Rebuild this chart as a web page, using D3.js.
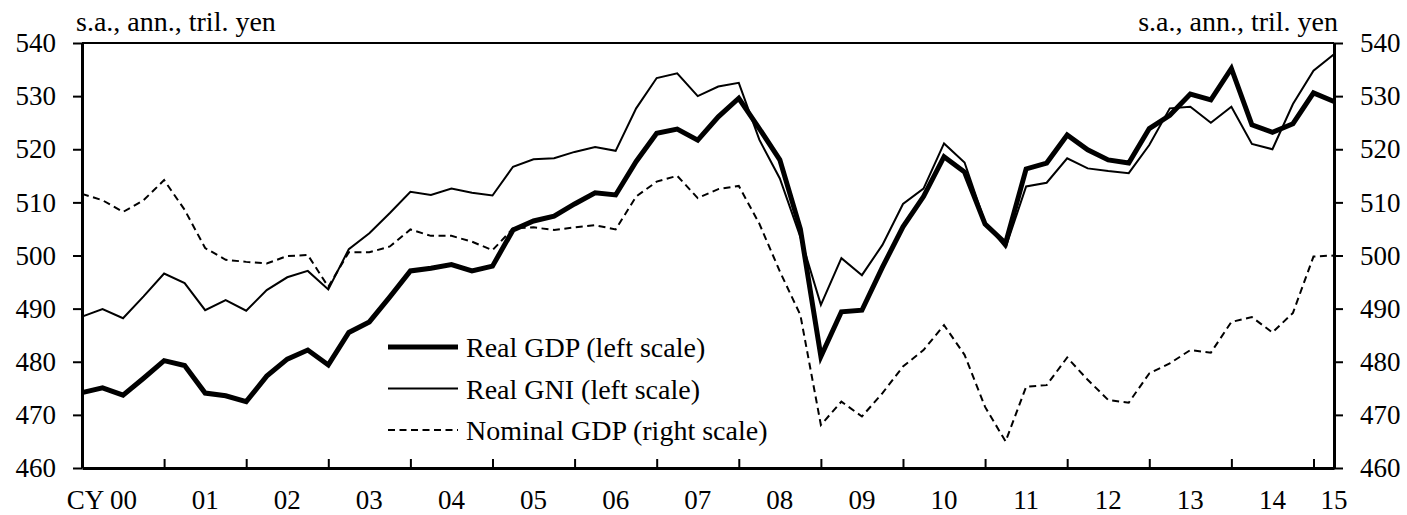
<!DOCTYPE html>
<html>
<head>
<meta charset="utf-8">
<script src="https://cdn.jsdelivr.net/npm/d3@7"></script>
<style>
  body { margin: 0; background: #fff; }
  svg text { font-family: "Liberation Serif", "Times New Roman", "DejaVu Serif", serif !important; fill: #000; }
</style>
</head>
<body>
<div id="chart"></div>
<script>
// quarterly, 2000Q1 .. 2015Q2
var years = ["CY 00","01","02","03","04","05","06","07","08","09","10","11","12","13","14","15"];

var realGDP = [474.2,475.1,473.7,476.9,480.2,479.3,474.1,473.6,472.5,477.3,480.5,482.2,479.4,485.5,487.5,492.2,
  497.1,497.6,498.3,497.1,498.0,504.8,506.5,507.4,509.7,511.8,511.4,517.7,523.0,523.8,521.7,526.1,
  529.6,523.9,518.0,505.0,481.0,489.4,489.7,497.8,505.4,511.1,518.6,515.7,505.9,502.3,516.3,517.4,
  522.7,519.9,518.0,517.4,523.9,526.4,530.4,529.3,535.2,524.6,523.2,524.8,530.6,529.0];

var realGNI = [488.5,489.9,488.2,492.3,496.6,494.8,489.7,491.6,489.6,493.5,495.9,497.1,493.6,501.2,504.2,508.0,
  512.0,511.4,512.6,511.8,511.3,516.7,518.1,518.3,519.5,520.4,519.7,527.7,533.4,534.3,530.0,531.8,
  532.5,521.8,514.5,503.5,490.7,499.5,496.3,502.0,509.7,512.6,521.1,517.5,506.2,501.5,513.0,513.7,
  518.3,516.4,515.9,515.5,520.8,527.7,528.0,525.0,528.0,521.0,520.0,528.5,534.8,537.9];

var nominalGDP = [511.6,510.4,508.2,510.4,514.2,508.6,501.4,499.2,498.8,498.5,499.9,500.1,494.1,500.6,500.6,501.7,
  504.9,503.7,503.7,502.6,501.0,505.1,505.3,504.8,505.3,505.7,504.9,511.1,513.9,515.0,510.8,512.5,
  513.1,506.0,497.0,488.8,468.1,472.5,469.7,474.1,479.1,482.2,486.9,481.3,471.5,465.0,475.3,475.6,
  480.8,476.6,472.8,472.3,477.8,479.7,482.2,481.7,487.5,488.4,485.5,489.2,499.8,500.0];

var yTicks = [460,470,480,490,500,510,520,530,540];

var W = 1407, H = 515;
var L = 82, R = 1334, T = 43, B = 468;
var FONT = "'Liberation Serif', 'Times New Roman', 'DejaVu Serif', serif";

var svg = d3.select("#chart").append("svg")
  .attr("width", W).attr("height", H)
  .attr("font-family", FONT);

var x = d3.scaleLinear().domain([0, realGDP.length - 1]).range([L, R]);
var yL = d3.scaleLinear().domain([460, 540]).range([B, T]);
var yR = d3.scaleLinear().domain([460, 540]).range([B, T]);

// top frame line
svg.append("line")
  .attr("x1", L).attr("x2", R).attr("y1", T).attr("y2", T)
  .attr("stroke", "#000").attr("stroke-width", 2);

// left axis
var gL = svg.append("g").attr("transform", "translate(" + L + ",0)")
  .call(d3.axisLeft(yL).tickValues(yTicks).tickSize(9).tickSizeOuter(0).tickPadding(17));
// right axis
var gR = svg.append("g").attr("transform", "translate(" + R + ",0)")
  .call(d3.axisRight(yR).tickValues(yTicks).tickSize(9).tickSizeOuter(0).tickPadding(17));

[gL, gR].forEach(function(g){
  g.attr("font-family", FONT).attr("font-size", 27);
  g.select(".domain").attr("stroke", "#000").attr("stroke-width", 3);
  g.selectAll(".tick line").attr("stroke", "#000").attr("stroke-width", 2);
  g.selectAll(".tick text").attr("fill", "#000");
});

// bottom axis with year ticks at Q1 of each year
var yearTicks = d3.range(4, realGDP.length, 4);
var gB = svg.append("g").attr("transform", "translate(0," + B + ")")
  .call(d3.axisTop(x).tickValues(yearTicks).tickSize(9).tickSizeOuter(0).tickFormat(""));
gB.select(".domain").attr("stroke", "#000").attr("stroke-width", 3);
gB.selectAll(".tick line").attr("stroke", "#000").attr("stroke-width", 2);

// year labels centred between ticks
svg.append("g").selectAll("text")
  .data(years)
  .join("text")
  .attr("x", function(d, i){ return i == 0 ? x(2) + 14 : Math.min(x(i * 4 + 2), R); })
  .attr("y", 509)
  .attr("text-anchor", function(d, i){ return i == 0 ? "end" : "middle"; })
  .attr("font-size", 27)
  .text(function(d){ return d; });

// unit labels
svg.append("text").attr("x", 76).attr("y", 31).attr("font-size", 28)
  .text("s.a., ann., tril. yen");
svg.append("text").attr("x", 1338).attr("y", 31).attr("text-anchor", "end").attr("font-size", 28)
  .text("s.a., ann., tril. yen");

// lines
var lineL = d3.line().x(function(d, i){ return x(i); }).y(function(d){ return yL(d); });
var lineR = d3.line().x(function(d, i){ return x(i); }).y(function(d){ return yR(d); });

svg.append("path").datum(nominalGDP).attr("d", lineR)
  .attr("fill", "none").attr("stroke", "#000").attr("stroke-width", 2)
  .attr("stroke-dasharray", "7,4.5");
svg.append("path").datum(realGNI).attr("d", lineL)
  .attr("fill", "none").attr("stroke", "#000").attr("stroke-width", 2);
svg.append("path").datum(realGDP).attr("d", lineL)
  .attr("fill", "none").attr("stroke", "#000").attr("stroke-width", 5);

// legend
var legend = [
  {name: "Real GDP (left scale)", w: 5, dash: null},
  {name: "Real GNI (left scale)", w: 2, dash: null},
  {name: "Nominal GDP (right scale)", w: 2, dash: "7,4.5"}
];
var lg = svg.append("g");
legend.forEach(function(d, i){
  var yy = 357 + i * 41.5;
  lg.append("line")
    .attr("x1", 388).attr("x2", 458).attr("y1", yy - 10).attr("y2", yy - 10)
    .attr("stroke", "#000").attr("stroke-width", d.w)
    .attr("stroke-dasharray", d.dash);
  lg.append("text").attr("x", 466).attr("y", yy).attr("font-size", 28).text(d.name);
});
</script>
</body>
</html>
